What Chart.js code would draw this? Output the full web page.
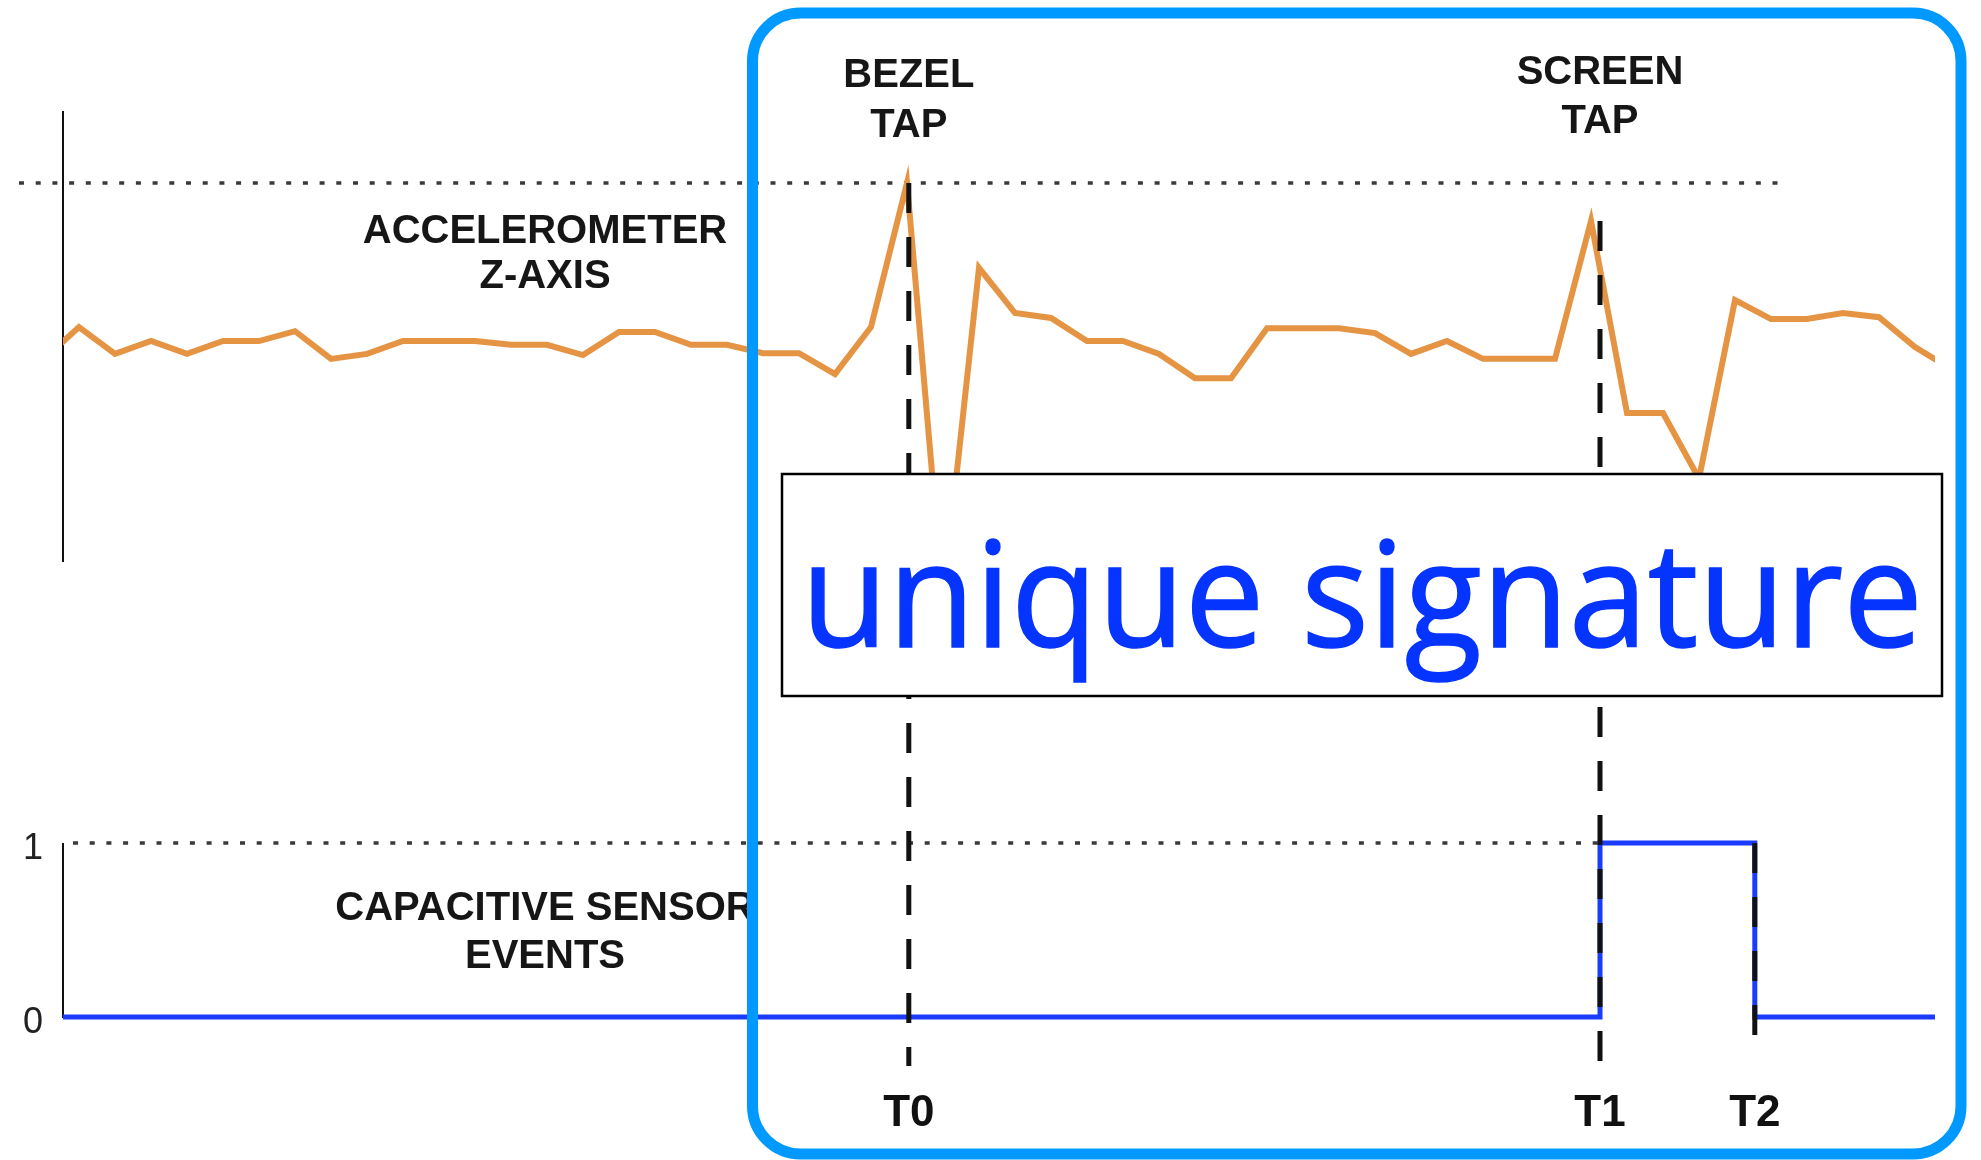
<!DOCTYPE html>
<html>
<head>
<meta charset="utf-8">
<script src="https://cdn.jsdelivr.net/npm/chart.js@4.4.1/dist/chart.umd.min.js"></script>
<style>
  html, body { margin: 0; padding: 0; background: #fff; }
  #wrap { position: relative; width: 1981px; height: 1160px; overflow: hidden; }
  #plot { position: absolute; left: 0; top: 0; }
  #overlay { position: absolute; left: 0; top: 0; pointer-events: none; }
</style>
</head>
<body>
<div id="wrap">
  <canvas id="plot" width="1981" height="1160"></canvas>
  <svg id="overlay" width="1981" height="1160" xmlns="http://www.w3.org/2000/svg">
    <rect x="782" y="474" width="1160" height="222" fill="#fff" stroke="#000" stroke-width="2.5"/>
    <text x="801" y="647" font-family="'Open Sans', sans-serif" font-size="146" fill="#0634ff"
          stroke="#0634ff" stroke-width="1.5"
          textLength="1122" lengthAdjust="spacingAndGlyphs">unique signature</text>
    <rect x="752.5" y="13" width="1208.5" height="1141" rx="48" ry="48"
          fill="none" stroke="#0099ff" stroke-width="11"/>
  </svg>
</div>
<script>
// accelerometer z-axis, one value per sample (sample -1 .. 52)
const sampleIndex = [-1, 0, 1, 2, 3, 4, 5, 6, 7, 8, 9, 10, 11, 12, 13, 14, 15, 16, 17, 18, 19, 20,
  21, 22, 23, 24, 25, 26, 27, 28, 29, 30, 31, 32, 33, 34, 35, 36, 37, 38, 39, 40, 41, 42, 43, 44,
  45, 46, 47, 48, 49, 50, 51, 52];
const accelZ = [5.33, 6.20, 5.49, 5.83, 5.49, 5.83, 5.83, 6.09, 5.36, 5.49, 5.83, 5.83, 5.83, 5.73,
  5.73, 5.46, 6.07, 6.07, 5.73, 5.73, 5.51, 5.51, 4.96, 6.20, 10.0, -1.0, 7.76, 6.57, 6.44, 5.83,
  5.83, 5.49, 4.85, 4.85, 6.17, 6.17, 6.17, 6.04, 5.49, 5.83, 5.36, 5.36, 5.36, 9.0, 3.93, 3.93,
  2.2, 6.91, 6.41, 6.41, 6.57, 6.46, 5.67, 5.09];

// capacitive sensor events (stepped)
const capTimes = [-1, 42.25, 46.55, 52];
const capState = [0, 1, 0, 0];

// event markers
const eventNames = ['T0', 'T1', 'T2'];
const eventTimes = [23.05, 42.25, 46.55];
const capTicks = [0, 1];

// layout (pixels)
const AREA = { left: 63, right: 1935, top: 111, bottom: 1062 };
const ACC_AXIS_TOP = 11.9;

function span(vA, pxA, vB, pxB) {
  const perPx = (vB - vA) / (pxA - pxB);
  return { min: vA - (AREA.bottom - pxA) * perPx, max: vA + (pxA - AREA.top) * perPx };
}
const accRange = span(0, 562, 10, 183);
const capRange = span(0, 1017, 1, 843);
const xPer = 1 / 36, xFirst = 79;
const xRange = { min: (AREA.left - xFirst) * xPer, max: (AREA.right - xFirst) * xPer };

const labelFont = 'bold 40px "Liberation Sans", Arial, sans-serif';

const tapOverlay = {
  id: 'tapOverlay',
  beforeDatasetsDraw(chart) {
    const { ctx, chartArea, scales: { x, yAcc, yCap } } = chart;
    ctx.save();
    ctx.strokeStyle = '#111';
    ctx.lineWidth = 2;
    ctx.beginPath();
    ctx.moveTo(chartArea.left, yAcc.getPixelForValue(ACC_AXIS_TOP));
    ctx.lineTo(chartArea.left, yAcc.getPixelForValue(0));
    ctx.moveTo(chartArea.left, yCap.getPixelForValue(1));
    ctx.lineTo(chartArea.left, yCap.getPixelForValue(0) + 1);
    ctx.stroke();

    // dotted reference lines
    ctx.setLineDash([5, 11.7]);
    ctx.lineWidth = 3.5;
    ctx.strokeStyle = '#3a3a3a';
    const yPeak = yAcc.getPixelForValue(Math.max(...accelZ));
    ctx.beginPath();
    ctx.moveTo(19, yPeak);
    ctx.lineTo(1785, yPeak);
    const yHigh = yCap.getPixelForValue(1);
    ctx.moveTo(chartArea.left + 10, yHigh);
    ctx.lineTo(x.getPixelForValue(eventTimes[1]), yHigh);
    ctx.stroke();
    ctx.restore();
  },
  afterDatasetsDraw(chart) {
    const { ctx, scales: { x, yAcc, yCap } } = chart;
    const bottoms = [1066, 1066, 1046];
    ctx.save();
    ctx.strokeStyle = '#111';
    ctx.lineWidth = 5;
    ctx.setLineDash([30, 24]);
    eventTimes.forEach((t, i) => {
      let top;
      if (i < 2) {
        // start the marker at the accelerometer peak nearest the event
        const near = sampleIndex.map((s, j) => Math.abs(s - t) <= 0.6 ? accelZ[j] : -Infinity);
        top = yAcc.getPixelForValue(Math.max(...near));
      } else {
        top = yCap.getPixelForValue(1);
      }
      const px = x.getPixelForValue(t);
      ctx.beginPath();
      ctx.moveTo(px, top);
      ctx.lineTo(px, bottoms[i]);
      ctx.stroke();
    });
    ctx.restore();
  },
  afterDraw(chart) {
    const { ctx, scales: { x } } = chart;
    ctx.save();
    ctx.font = labelFont;
    ctx.fillStyle = '#161616';
    ctx.textAlign = 'center';
    ctx.textBaseline = 'alphabetic';
    const put = (txt, cx, cy) => ctx.fillText(txt, cx, cy + 14);
    const x0 = x.getPixelForValue(eventTimes[0]);
    const x1 = x.getPixelForValue(eventTimes[1]);
    put('BEZEL', x0, 73);
    put('TAP', x0, 123);
    put('SCREEN', x1, 70);
    put('TAP', x1, 119);
    put('ACCELEROMETER', 545, 229);
    put('Z-AXIS', 545, 274);
    put('CAPACITIVE SENSOR', 545, 906);
    put('EVENTS', 545, 954);
    ctx.restore();
  }
};

new Chart(document.getElementById('plot'), {
  type: 'line',
  data: {
    datasets: [{
      label: 'Accelerometer Z-axis',
      data: sampleIndex.map((s, i) => ({ x: s, y: accelZ[i] })),
      yAxisID: 'yAcc',
      borderColor: '#e59444',
      borderWidth: 6,
      pointRadius: 0,
      tension: 0,
      fill: false
    }, {
      label: 'Capacitive sensor events',
      data: capTimes.map((t, i) => ({ x: t, y: capState[i] })),
      yAxisID: 'yCap',
      borderColor: '#1a3cff',
      borderWidth: 5,
      pointRadius: 0,
      stepped: true,
      fill: false
    }]
  },
  options: {
    responsive: false,
    devicePixelRatio: 1,
    animation: false,
    layout: { padding: { left: 0, right: 1981 - AREA.right, top: AREA.top, bottom: 0 } },
    plugins: { legend: { display: false }, tooltip: { enabled: false } },
    scales: {
      x: {
        type: 'linear',
        min: xRange.min,
        max: xRange.max,
        grid: { display: false, drawTicks: false },
        border: { display: false },
        afterBuildTicks: scale => { scale.ticks = eventTimes.map(v => ({ value: v })); },
        afterFit: scale => { scale.height = 1160 - AREA.bottom; },
        ticks: {
          autoSkip: false,
          maxRotation: 0,
          padding: 25,
          color: '#111',
          font: { family: '"Liberation Sans", Arial, sans-serif', size: 44, weight: 'bold' },
          callback: (value, index) => eventNames[index]
        }
      },
      yAcc: {
        type: 'linear',
        display: false,
        min: accRange.min,
        max: accRange.max
      },
      yCap: {
        type: 'linear',
        position: 'left',
        min: capRange.min,
        max: capRange.max,
        grid: { display: false, drawTicks: false },
        border: { display: false },
        afterBuildTicks: scale => { scale.ticks = capTicks.map(v => ({ value: v })); },
        afterFit: scale => { scale.width = AREA.left; },
        ticks: {
          padding: 20,
          labelOffset: 6,
          color: '#222',
          font: { family: '"Liberation Sans", Arial, sans-serif', size: 36 },
          callback: value => String(value)
        }
      }
    }
  },
  plugins: [tapOverlay]
});
</script>
</body>
</html>
